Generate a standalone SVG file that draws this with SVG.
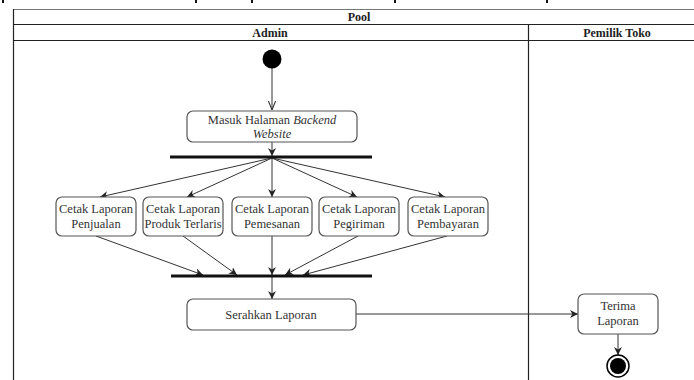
<svg xmlns="http://www.w3.org/2000/svg" width="694" height="380" viewBox="0 0 694 380">
<defs>
<marker id="arr" viewBox="0 0 10 10" refX="10" refY="5" markerWidth="8" markerHeight="8" orient="auto" markerUnits="userSpaceOnUse"><path d="M0,0 L10,5 L0,10 L3,5 z" fill="#222"/></marker>
<marker id="arro" viewBox="0 0 10 10" refX="10" refY="5" markerWidth="9" markerHeight="9" orient="auto" markerUnits="userSpaceOnUse"><path d="M0,1 L10,5 L0,9" fill="none" stroke="#333" stroke-width="1.2"/></marker>
</defs>
<style>
.hd{font-weight:bold;font-size:12px;text-anchor:middle;fill:#222;}
.lbl{font-size:12.5px;text-anchor:middle;fill:#333;}
.box{fill:#fff;stroke:#555;stroke-width:1.2;}
.ln{stroke:#333;stroke-width:1;fill:none;}
.bar{stroke:#111;stroke-width:3;}
</style>
<rect width="694" height="380" fill="#fff"/>
<g id="frag" fill="#111">
<rect x="2" y="0" width="2" height="3"/><rect x="195" y="0" width="2" height="3"/><rect x="251" y="0" width="2" height="3"/><rect x="394" y="0" width="2" height="3"/><rect x="546" y="0" width="2" height="3"/>
</g>
<g font-family="'Liberation Serif', 'Times New Roman', 'DejaVu Serif', serif">
<g id="pool">
<line x1="13" y1="9.5" x2="694" y2="9.5" stroke="#777" stroke-width="1.2"/>
<line x1="13.5" y1="9" x2="13.5" y2="380" stroke="#222" stroke-width="1.2"/>
<line x1="13" y1="24.5" x2="694" y2="24.5" stroke="#222" stroke-width="1.2"/>
<line x1="13" y1="40.5" x2="694" y2="40.5" stroke="#222" stroke-width="1.2"/>
<line x1="528.5" y1="24" x2="528.5" y2="380" stroke="#222" stroke-width="1.2"/>
<text class="hd" x="359" y="21">Pool</text>
<text class="hd" x="270" y="37">Admin</text>
<text class="hd" x="617" y="37">Pemilik Toko</text>
</g>
<g id="connectors">
<line class="ln" x1="272" y1="68" x2="272" y2="110" marker-end="url(#arro)"/>
<line class="ln" x1="272" y1="142" x2="272" y2="156" marker-end="url(#arr)"/>
<line class="ln" x1="272" y1="158" x2="100" y2="197" marker-end="url(#arr)"/>
<line class="ln" x1="272" y1="158" x2="187" y2="197" marker-end="url(#arr)"/>
<line class="ln" x1="272" y1="158" x2="272" y2="197" marker-end="url(#arr)"/>
<line class="ln" x1="272" y1="158" x2="357" y2="197" marker-end="url(#arr)"/>
<line class="ln" x1="272" y1="158" x2="445" y2="197" marker-end="url(#arr)"/>
<line class="ln" x1="96" y1="236" x2="203" y2="275" marker-end="url(#arr)"/>
<line class="ln" x1="183" y1="236" x2="237" y2="275" marker-end="url(#arr)"/>
<line class="ln" x1="272" y1="236" x2="272" y2="275" marker-end="url(#arr)"/>
<line class="ln" x1="358" y1="236" x2="285" y2="275" marker-end="url(#arr)"/>
<line class="ln" x1="447" y1="236" x2="303" y2="275" marker-end="url(#arr)"/>
<line class="ln" x1="272" y1="277" x2="272" y2="299" marker-end="url(#arr)"/>
<line class="ln" x1="356" y1="314" x2="578" y2="314" marker-end="url(#arr)"/>
<line class="ln" x1="618" y1="334" x2="618" y2="355" marker-end="url(#arr)"/>
</g>
<g id="start"><circle cx="272" cy="59" r="9.5" fill="#000"/></g>
<g id="masuk"><rect class="box" x="187" y="111" width="170" height="31" rx="6"/>
<text class="lbl" x="272" y="124">Masuk Halaman <tspan font-style="italic">Backend</tspan></text>
<text class="lbl" x="272" y="138" font-style="italic">Website</text></g>
<g id="fork"><line class="bar" x1="170" y1="157" x2="372" y2="157"/></g>
<g id="penjualan"><rect class="box" x="56" y="197" width="80" height="39" rx="6"/>
<text class="lbl" x="96" y="213">Cetak Laporan</text><text class="lbl" x="96" y="228">Penjualan</text></g>
<g id="produk"><rect class="box" x="143" y="197" width="80" height="39" rx="6"/>
<text class="lbl" x="183" y="213">Cetak Laporan</text><text class="lbl" x="183" y="228">Produk Terlaris</text></g>
<g id="pemesanan"><rect class="box" x="232" y="197" width="80" height="39" rx="6"/>
<text class="lbl" x="272" y="213">Cetak Laporan</text><text class="lbl" x="272" y="228">Pemesanan</text></g>
<g id="pegiriman"><rect class="box" x="319" y="197" width="80" height="39" rx="6"/>
<text class="lbl" x="359" y="213">Cetak Laporan</text><text class="lbl" x="359" y="228">Pegiriman</text></g>
<g id="pembayaran"><rect class="box" x="408" y="197" width="80" height="39" rx="6"/>
<text class="lbl" x="448" y="213">Cetak Laporan</text><text class="lbl" x="448" y="228">Pembayaran</text></g>
<g id="join"><line class="bar" x1="171" y1="276" x2="372" y2="276"/></g>
<g id="serahkan"><rect class="box" x="187" y="299" width="169" height="31" rx="6"/>
<text class="lbl" x="271" y="319">Serahkan Laporan</text></g>
<g id="terima"><rect class="box" x="578" y="294" width="80" height="40" rx="6"/>
<text class="lbl" x="618" y="310">Terima</text><text class="lbl" x="618" y="325">Laporan</text></g>
<g id="end"><circle cx="618" cy="366" r="11" fill="#fff" stroke="#000" stroke-width="1.5"/><circle cx="618" cy="366" r="8" fill="#000"/></g>
</g>
</svg>
